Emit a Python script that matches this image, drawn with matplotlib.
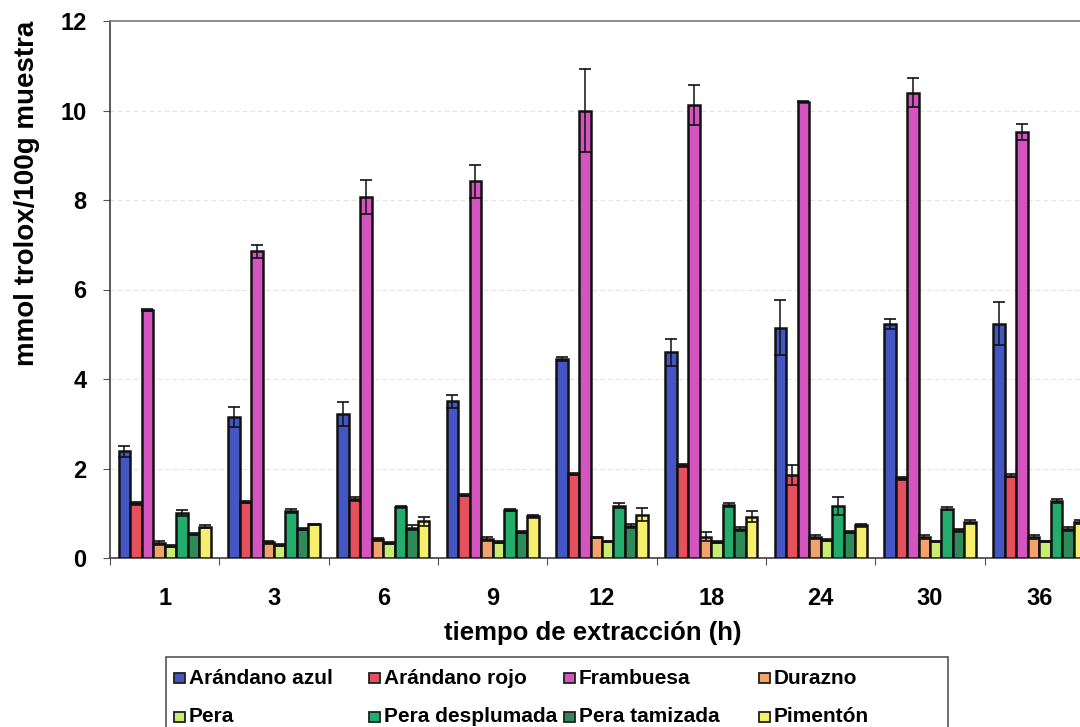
import matplotlib
matplotlib.use("Agg")
import matplotlib.pyplot as plt
from matplotlib.patches import Rectangle
import numpy as np

plt.rcParams['font.family'] = ['Liberation Sans', 'DejaVu Sans']

# Extraction times (h)
tiempos = ['1', '3', '6', '9', '12', '18', '24', '30', '36']

series = ['Arándano azul', 'Arándano rojo', 'Frambuesa', 'Durazno',
          'Pera', 'Pera desplumada', 'Pera tamizada', 'Pimentón']

arandano_azul = [2.38, 3.15, 3.22, 3.50, 4.45, 4.60, 5.15, 5.23, 5.23]
arandano_azul_err = [0.12, 0.23, 0.27, 0.15, 0.05, 0.30, 0.62, 0.12, 0.48]

arandano_rojo = [1.22, 1.25, 1.32, 1.40, 1.88, 2.07, 1.85, 1.78, 1.84]
arandano_rojo_err = [0.03, 0.02, 0.05, 0.02, 0.02, 0.04, 0.22, 0.03, 0.03]

frambuesa = [5.55, 6.85, 8.07, 8.42, 10.00, 10.12, 10.20, 10.40, 9.52]
frambuesa_err = [0.02, 0.15, 0.38, 0.37, 0.93, 0.45, 0.02, 0.33, 0.17]

durazno = [0.33, 0.35, 0.42, 0.43, 0.46, 0.47, 0.47, 0.47, 0.47]
durazno_err = [0.04, 0.04, 0.03, 0.04, 0.02, 0.10, 0.04, 0.04, 0.04]

pera = [0.27, 0.29, 0.33, 0.35, 0.37, 0.36, 0.41, 0.37, 0.37]
pera_err = [0.02, 0.02, 0.02, 0.02, 0.02, 0.02, 0.02, 0.02, 0.02]

pera_desplumada = [1.00, 1.05, 1.15, 1.07, 1.17, 1.18, 1.17, 1.10, 1.28]
pera_desplumada_err = [0.07, 0.05, 0.02, 0.03, 0.05, 0.05, 0.20, 0.03, 0.04]

pera_tamizada = [0.53, 0.65, 0.68, 0.58, 0.72, 0.65, 0.58, 0.62, 0.65]
pera_tamizada_err = [0.02, 0.03, 0.06, 0.02, 0.05, 0.04, 0.03, 0.03, 0.04]

pimenton = [0.70, 0.75, 0.82, 0.93, 0.97, 0.92, 0.73, 0.80, 0.80]
pimenton_err = [0.03, 0.02, 0.10, 0.03, 0.14, 0.12, 0.03, 0.05, 0.05]

valores = [arandano_azul, arandano_rojo, frambuesa, durazno,
           pera, pera_desplumada, pera_tamizada, pimenton]
errores = [arandano_azul_err, arandano_rojo_err, frambuesa_err, durazno_err,
           pera_err, pera_desplumada_err, pera_tamizada_err, pimenton_err]

colores = ['#4456c4', '#e64f5c', '#d455bf', '#f2a26a',
           '#c9ec72', '#22ad6c', '#2f8a5a', '#f6ef6c']

W, H = 1080, 727
fig = plt.figure(figsize=(W / 100, H / 100), dpi=100)
ax = fig.add_axes([110 / W, 1 - 558 / H, (1094 - 110) / W, (558 - 21) / H])

x = np.arange(len(tiempos))
ancho = 0.105
for j, (nombre, v, e, c) in enumerate(zip(series, valores, errores, colores)):
    pos = x + (j - 3.5) * ancho
    ax.bar(pos, v, width=ancho, color=c, edgecolor='#111111', linewidth=1.8,
           zorder=3, label=nombre)
    ax.errorbar(pos, v, yerr=e, fmt='none', ecolor='#111111', elinewidth=1.1,
                capsize=4.2, capthick=1.2, zorder=4)

ax.set_xlim(-0.5, len(tiempos) - 0.5)
ax.set_ylim(0, 12)
ax.set_yticks(np.arange(0, 13, 2))
ax.yaxis.grid(True, color='#e4e4e4', linewidth=0.8, linestyle=(0, (4, 3)), zorder=0)
ax.set_axisbelow(True)

# group boundaries carry the tick marks, labels sit at group centres
ax.set_xticks(np.arange(len(tiempos) + 1) - 0.5)
ax.set_xticklabels([])
ax.set_xticks(x, minor=True)
ax.set_xticklabels(tiempos, minor=True)
ax.tick_params(axis='x', which='major', direction='out', length=5, color='#555555')
ax.tick_params(axis='x', which='minor', length=0, pad=21, labelsize=17)
ax.tick_params(axis='y', direction='out', length=5, color='#555555', pad=12, labelsize=17)
for lab in ax.get_xticklabels(minor=True) + ax.get_yticklabels():
    lab.set_fontweight('bold')

for s in ['left', 'bottom']:
    ax.spines[s].set_color('#404040')
    ax.spines[s].set_linewidth(1.2)
ax.spines['top'].set_color('#7a7a7a')
ax.spines['top'].set_linewidth(1.2)
ax.spines['right'].set_visible(False)

ax.set_xlabel('tiempo de extracción (h)', fontsize=18.5, fontweight='bold')
ax.xaxis.set_label_coords((593 - 110) / (1094 - 110), (558 - 633) / (558 - 21))
ax.xaxis.label.set_va('center')
ax.set_ylabel('mmol trolox/100g muestra', fontsize=20, fontweight='bold')
ax.yaxis.set_label_coords((27 - 110) / (1094 - 110), (558 - 193) / (558 - 21))
ax.yaxis.label.set_va('center')

# legend box below the axes, four equal-width columns
fig.patches.append(Rectangle((166 / W, 1 - 745 / H), (948 - 166) / W, (745 - 657) / H,
                             transform=fig.transFigure, facecolor='white',
                             edgecolor='#555555', linewidth=1.2, clip_on=False))
col0, colw = 174, 195
filas = [678, 717]
for k, (nombre, c) in enumerate(zip(series, colores)):
    fila, col = divmod(k, 4)
    xm = col0 + col * colw
    ym = filas[fila]
    fig.patches.append(Rectangle((xm / W, 1 - (ym + 5) / H), 11 / W, 10 / H,
                                 transform=fig.transFigure, facecolor=c,
                                 edgecolor='#202020', linewidth=1.3))
    fig.text((xm + 15) / W, 1 - ym / H, nombre, fontsize=15, fontweight='bold',
             va='center', ha='left')

fig.savefig('out.png', dpi=100)
